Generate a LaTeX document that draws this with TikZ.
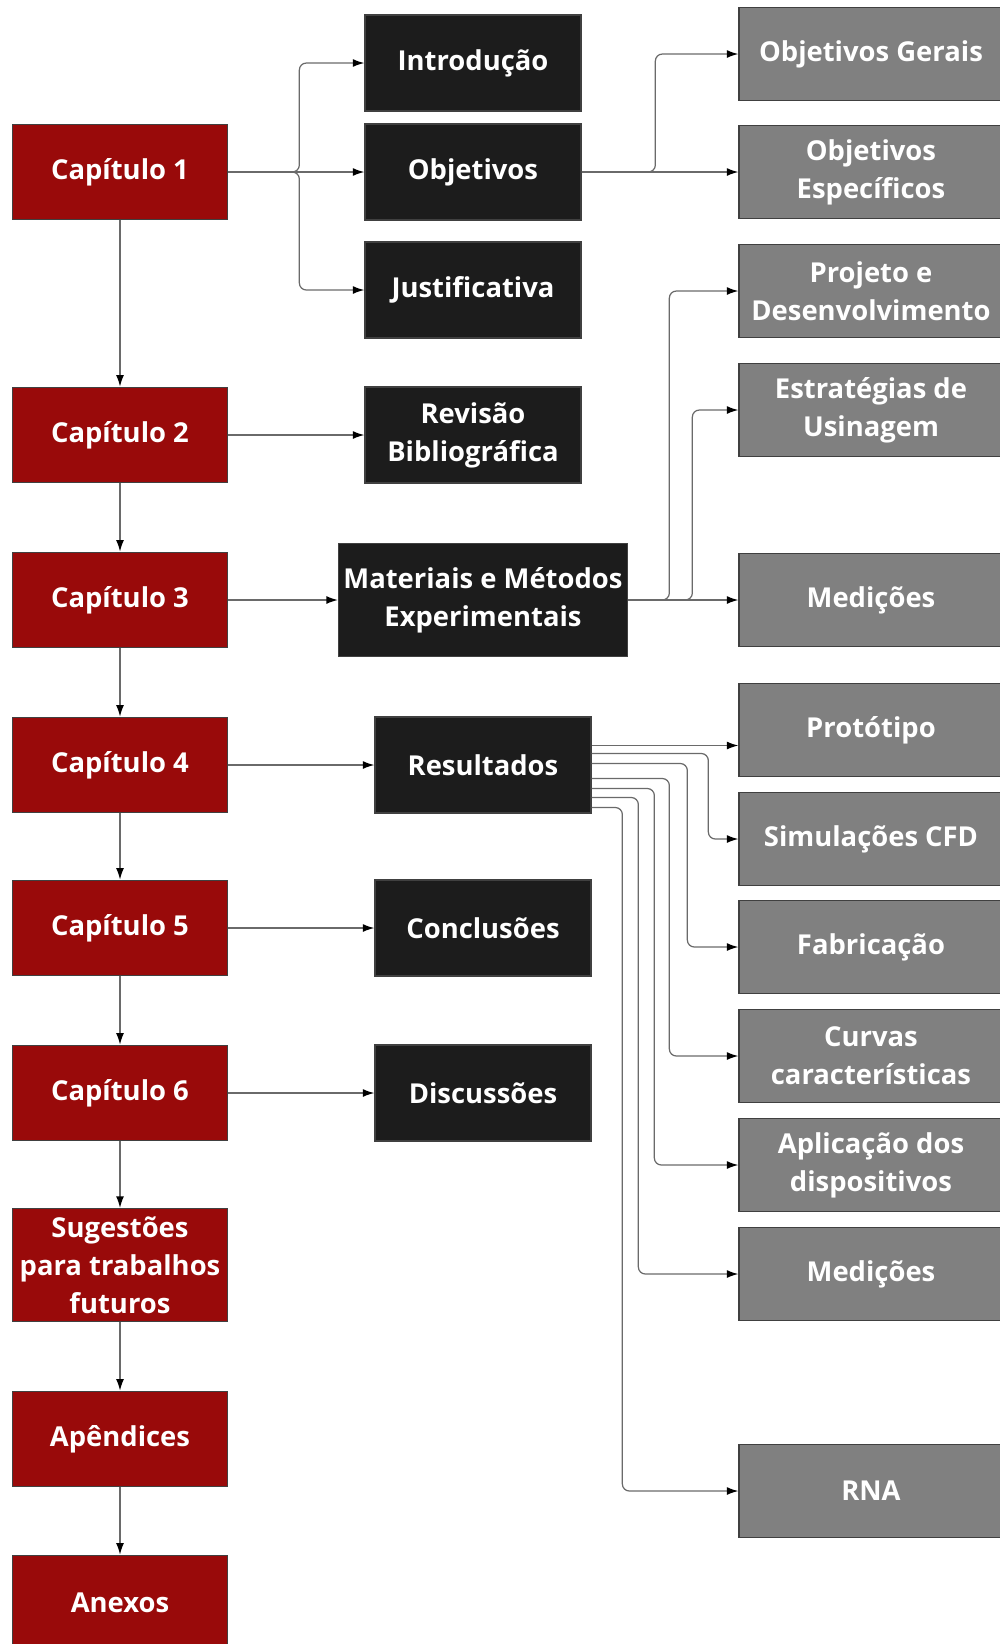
\documentclass[tikz,border=0pt]{standalone}
\usepackage{fontspec}
\setmainfont{Open Sans}
\usepackage{tikz}
\usetikzlibrary{arrows.meta,positioning,calc}
\definecolor{capred}{HTML}{990A0A}
\definecolor{secblack}{HTML}{1C1C1C}
\definecolor{subgray}{HTML}{808080}
\definecolor{wire}{HTML}{6A6A6A}

\begin{document}
\begin{tikzpicture}[x=0.02cm,y=-0.02cm,
  box/.style={rectangle, draw=black!75, line width=0.8pt, text=white, align=center,
    font=\bfseries\fontsize{15.6}{21.5}\selectfont, inner sep=2pt},
  chapbox/.style={box, fill=capred, minimum width=4.3cm, minimum height=1.91cm},
  secbox/.style={box, fill=secblack, minimum width=4.32cm, minimum height=1.92cm},
  subbox/.style={box, fill=subgray, minimum width=5.28cm, minimum height=1.86cm},
  arr/.style={->, >={Latex[length=6.5pt,width=4.5pt,color=black]}, draw=wire, line width=0.7pt, rounded corners=4pt}]
\useasboundingbox (0,0) rectangle (1000,1644);

% chapters
\node[chapbox] (c1) at (120,172) {Capítulo 1};
\node[chapbox] (c2) at (120,435) {Capítulo 2};
\node[chapbox] (c3) at (120,600) {Capítulo 3};
\node[chapbox] (c4) at (120,765) {Capítulo 4};
\node[chapbox] (c5) at (120,928) {Capítulo 5};
\node[chapbox] (c6) at (120,1093) {Capítulo 6};
\node[chapbox, minimum height=2.26cm] (sug) at (120,1265) {Sugestões\\para trabalhos\\futuros};
\node[chapbox] (ape) at (120,1439) {Apêndices};
\node[chapbox] (ane) at (120,1603) {Anexos};

% sections
\node[secbox] (intro) at (473,63) {Introdução};
\node[secbox] (obj) at (473,172) {Objetivos};
\node[secbox] (just) at (473,290) {Justificativa};
\node[secbox] (rev) at (473,435) {Revisão\\Bibliográfica};
\node[secbox, minimum width=5.78cm, minimum height=2.26cm] (mat) at (483,600) {Materiais e Métodos\\Experimentais};
\node[secbox] (res) at (483,765) {Resultados};
\node[secbox] (conc) at (483,928) {Conclusões};
\node[secbox] (disc) at (483,1093) {Discussões};

% subsections
\node[subbox] (og) at (871,54) {Objetivos Gerais};
\node[subbox] (oe) at (871,172) {Objetivos\\Específicos};
\node[subbox] (proj) at (871,291) {Projeto e\\Desenvolvimento};
\node[subbox] (estr) at (871,410) {Estratégias de\\Usinagem};
\node[subbox] (med) at (871,600) {Medições};
\node[subbox] (prot) at (871,730) {Protótipo};
\node[subbox] (sim) at (871,839) {Simulações CFD};
\node[subbox] (fab) at (871,947) {Fabricação};
\node[subbox] (curv) at (871,1056) {Curvas\\características};
\node[subbox] (apl) at (871,1165) {Aplicação dos\\dispositivos};
\node[subbox] (med2) at (871,1274) {Medições};
\node[subbox] (rna) at (871,1491) {RNA};

\draw[arr] (c1)--(c2);
\draw[arr] (c2)--(c3);
\draw[arr] (c3)--(c4);
\draw[arr] (c4)--(c5);
\draw[arr] (c5)--(c6);
\draw[arr] (c6)--(sug);
\draw[arr] (sug)--(ape);
\draw[arr] (ape)--(ane);

\draw[arr] (c1.east) -| ([xshift=-1.3cm]intro.west) -- (intro.west);
\draw[arr] (c1.east) -- (obj.west);
\draw[arr] (c1.east) -| ([xshift=-1.3cm]just.west) -- (just.west);
\draw[arr] (c2.east) -- (rev.west);
\draw[arr] (c3.east) -- (mat.west);
\draw[arr] (c4.east) -- (res.west);
\draw[arr] (c5.east) -- (conc.west);
\draw[arr] (c6.east) -- (disc.west);

\draw[arr] (obj.east) -| ([xshift=-1.66cm]og.west) -- (og.west);
\draw[arr] (obj.east) -- (oe.west);

\draw[arr] (mat.east) -| ([xshift=-1.38cm]proj.west) -- (proj.west);
\draw[arr] (mat.east) -| ([xshift=-0.92cm]estr.west) -- (estr.west);
\draw[arr] (mat.east) -- (med.west);

\draw[arr] ([yshift=0.39cm]res.east) -- ([yshift=0.39cm]res.east -| prot.west);
\draw[arr] ([yshift=0.23cm]res.east) -| ([xshift=-0.6cm]sim.west) -- (sim.west);
\draw[arr] ([yshift=0.03cm]res.east) -| ([xshift=-1.02cm]fab.west) -- (fab.west);
\draw[arr] ([yshift=-0.27cm]res.east) -| ([xshift=-1.38cm]curv.west) -- (curv.west);
\draw[arr] ([yshift=-0.47cm]res.east) -| ([xshift=-1.68cm]apl.west) -- (apl.west);
\draw[arr] ([yshift=-0.65cm]res.east) -| ([xshift=-2.0cm]med2.west) -- (med2.west);
\draw[arr] ([yshift=-0.85cm]res.east) -| ([xshift=-2.32cm]rna.west) -- (rna.west);
\end{tikzpicture}
\end{document}
